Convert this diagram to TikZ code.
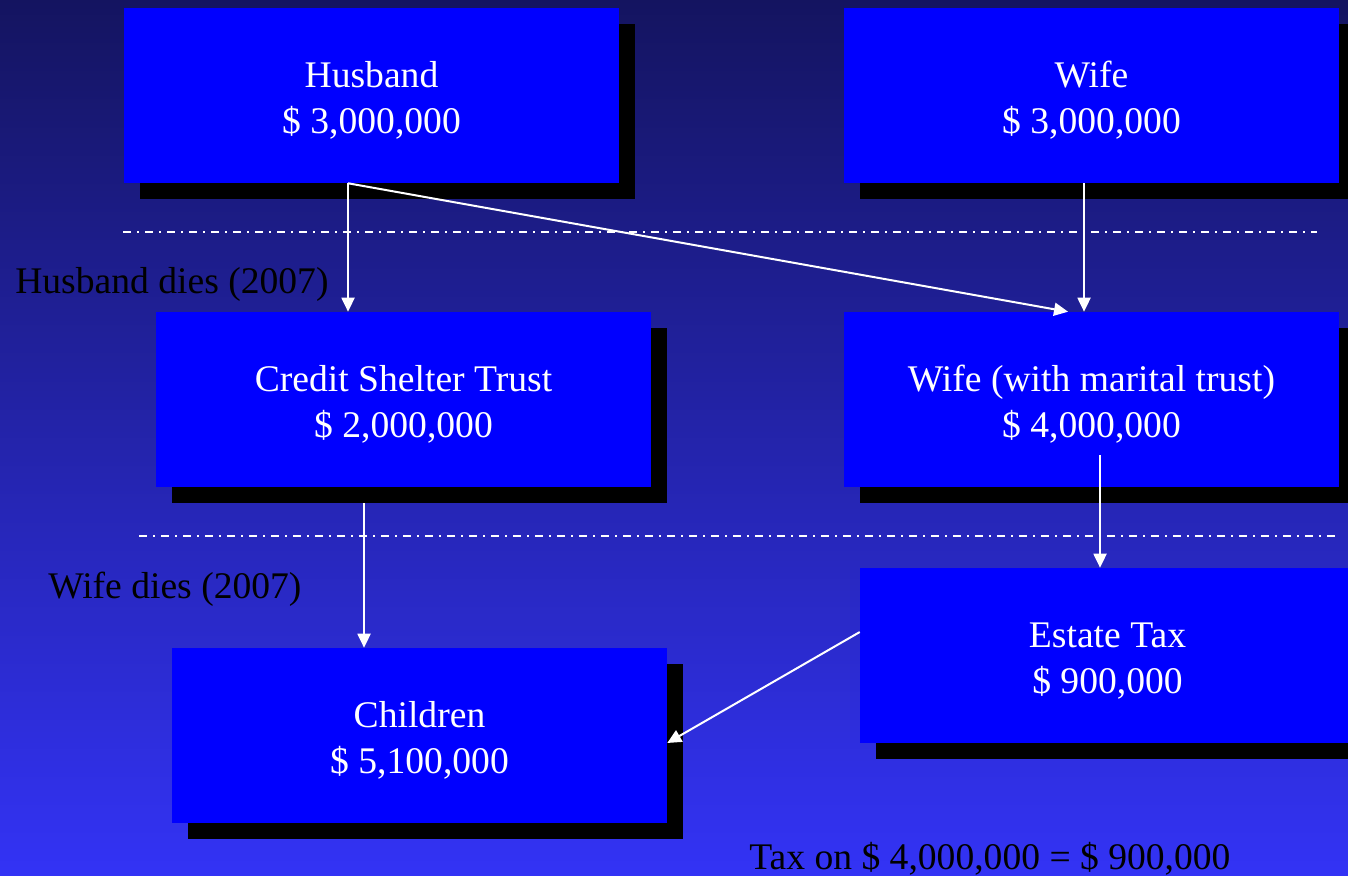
\documentclass[tikz,border=0pt]{standalone}
\usepackage{fontspec}
\setmainfont{Liberation Serif}
\usetikzlibrary{arrows.meta,shadows}
\definecolor{bgtop}{RGB}{20,20,96}
\definecolor{bgmid}{RGB}{40,40,192}
\definecolor{bgbot}{RGB}{51,51,245}
\definecolor{boxblue}{RGB}{0,0,255}
\newcommand{\toplift}{\rule{0pt}{27.5pt}}

\begin{document}
\begin{tikzpicture}	[
		x=0.75pt, y=-0.75pt,
		box/.style={rectangle, fill=boxblue, text=white, align=center, inner sep=0,
			minimum width=371.25pt, minimum height=131.25pt,
			font=\fontsize{28.2}{34.5}\selectfont,
			drop shadow={shadow xshift=12pt, shadow yshift=-12pt, fill=black, opacity=1}},
		lbl/.style={anchor=base west, inner sep=0, text=black, font=\fontsize{28.2}{34.5}\selectfont},
		arr/.style={draw=white, line width=1.5pt, -{Triangle[length=10.5pt,width=9.75pt]}},
		sep/.style={draw=white, line width=1.5pt, dash pattern=on 6pt off 4.5pt on 1.5pt off 4.5pt}
	]
		\useasboundingbox (0,0) rectangle (1348,875);
		\shade[top color=bgtop, middle color=bgmid, bottom color=bgbot] (0,0) rectangle (1348,875);

		% boxes
		\node[box] (hus) at (371.5,95.5) {\toplift Husband\\\$ 3,000,000};
		\node[box] (wif) at (1091.5,95.5) {\toplift Wife\\\$ 3,000,000};
		\node[box] (cst) at (403.5,399.5) {\toplift Credit Shelter Trust\\\$ 2,000,000};
		\node[box] (wmt) at (1091.5,399.5) {\toplift Wife (with marital trust)\\\$ 4,000,000};
		\node[box] (tax) at (1107.5,655.5) {\toplift Estate Tax\\\$ 900,000};
		\node[box] (chi) at (419.5,735.5) {\toplift Children\\\$ 5,100,000};

		% dividers
		\path
			(123,232) coordinate (d1a)
			(1317,232) coordinate (d1b)
			(139,536) coordinate (d2a)
			(1338,536) coordinate (d2b)
		;
		\draw[sep] (d1a) -- (d1b);
		\draw[sep] (d2a) -- (d2b);

		% labels
		\node[lbl] (hdies) at (15,293) {Husband dies (2007)};
		\node[lbl] (wdies) at (48,598) {Wife dies (2007)};
		\node[lbl] (taxon) at (749,869) {Tax on \$ 4,000,000 = \$ 900,000};

		% arrows
		\draw[arr] ([xshift=-17.6pt]hus.south) -- ([xshift=-17.6pt]hus.south |- cst.north);
		\draw[arr] ([xshift=-17.6pt]hus.south) -- ([xshift=-17.6pt]wmt.north);
		\draw[arr] ([xshift=-5.6pt]wif.south) -- ([xshift=-5.6pt]wmt.north);
		\draw[arr] ([xshift=6.4pt,yshift=24pt]wmt.south) -- ([xshift=6.4pt]wmt.south |- tax.north);
		\draw[arr] ([xshift=-29.6pt,yshift=-12pt]cst.south) -- ([xshift=-29.6pt]cst.south |- chi.north);
		\draw[arr] ([yshift=17.6pt]tax.west) -- ([yshift=-5.6pt]chi.east);
	\end{tikzpicture}
\end{document}
